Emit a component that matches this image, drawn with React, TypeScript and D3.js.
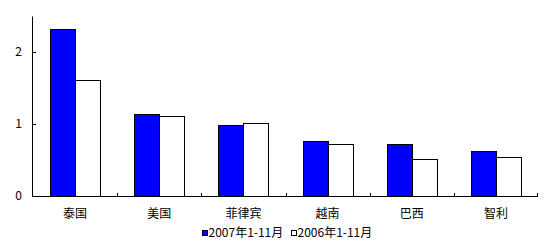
import React from "react";
import * as d3 from "d3";

const categories = ["泰国", "美国", "菲律宾", "越南", "巴西", "智利"];
const series2007 = [2.32, 1.14, 0.99, 0.76, 0.72, 0.62];
const series2006 = [1.62, 1.12, 1.01, 0.73, 0.51, 0.54];
const seriesNames = ["2007年1-11月", "2006年1-11月"];
const seriesColors = ["#0000FF", "#FFFFFF"];
const yTicks = [0, 1, 2];

const W = 553;
const H = 248;
const left = 33;
const right = 538;
const top = 16.5;
const bottom = 196;
const font = "'Noto Sans CJK SC', 'DejaVu Sans', sans-serif";

export default function App() {
  const x0 = d3.scaleBand<string>().domain(categories).range([left, right]).padding(0);
  const x1 = d3
    .scaleBand<string>()
    .domain(seriesNames)
    .range([0, x0.bandwidth()])
    .paddingInner(0)
    .paddingOuter(0.68);
  const y = d3.scaleLinear().domain([0, 2.5]).range([bottom, top]);
  const data = [series2007, series2006];

  return (
    <svg
      width={W}
      height={H}
      style={{ position: "absolute", left: 0, top: 0, background: "#fff" }}
      fontFamily={font}
    >
      <rect x={0} y={0} width={W} height={H} fill="#fff" />
      {categories.map((c, i) => (
        <g key={c}>
          {seriesNames.map((s, j) => (
            <rect
              key={s}
              x={Math.round(x0(c)! + x1(s)!) + 0.5}
              y={Math.round(y(data[j][i])) + 0.5}
              width={Math.round(x1.bandwidth())}
              height={Math.round(bottom - y(data[j][i]))}
              fill={seriesColors[j]}
              stroke="#000"
              strokeWidth={1}
            />
          ))}
          <text
            x={x0(c)! + x0.bandwidth() / 2}
            y={218}
            textAnchor="middle"
            fontSize={12}
            fill="#000"
          >
            {c}
          </text>
        </g>
      ))}
      {/* y axis */}
      <line x1={left - 0.5} x2={left - 0.5} y1={top} y2={bottom + 0.5} stroke="#000" />
      {yTicks.map((t) => (
        <g key={t}>
          <line
            x1={left}
            x2={left + 3}
            y1={Math.round(y(t)) + 0.5}
            y2={Math.round(y(t)) + 0.5}
            stroke="#000"
          />
          <text x={22} y={y(t) + 4} textAnchor="end" fontSize={12} fill="#000">
            {t}
          </text>
        </g>
      ))}
      {/* x axis */}
      <line x1={left - 1} x2={right} y1={bottom + 0.5} y2={bottom + 0.5} stroke="#000" />
      {categories.slice(1).map((c) => (
        <line
          key={c}
          x1={Math.round(x0(c)!) + 0.5}
          x2={Math.round(x0(c)!) + 0.5}
          y1={bottom}
          y2={bottom - 3}
          stroke="#000"
        />
      ))}
      <line x1={right - 0.5} x2={right - 0.5} y1={bottom} y2={bottom - 3} stroke="#000" />
      {/* legend */}
      {seriesNames.map((s, j) => {
        const lx = j === 0 ? 202 : 291;
        return (
          <g key={s}>
            <rect
              x={lx + 0.5}
              y={230.5}
              width={5}
              height={5}
              fill={seriesColors[j]}
              stroke="#000"
            />
            <text x={lx + 6.5} y={237} fontSize={12} fill="#000">
              {s}
            </text>
          </g>
        );
      })}
    </svg>
  );
}
